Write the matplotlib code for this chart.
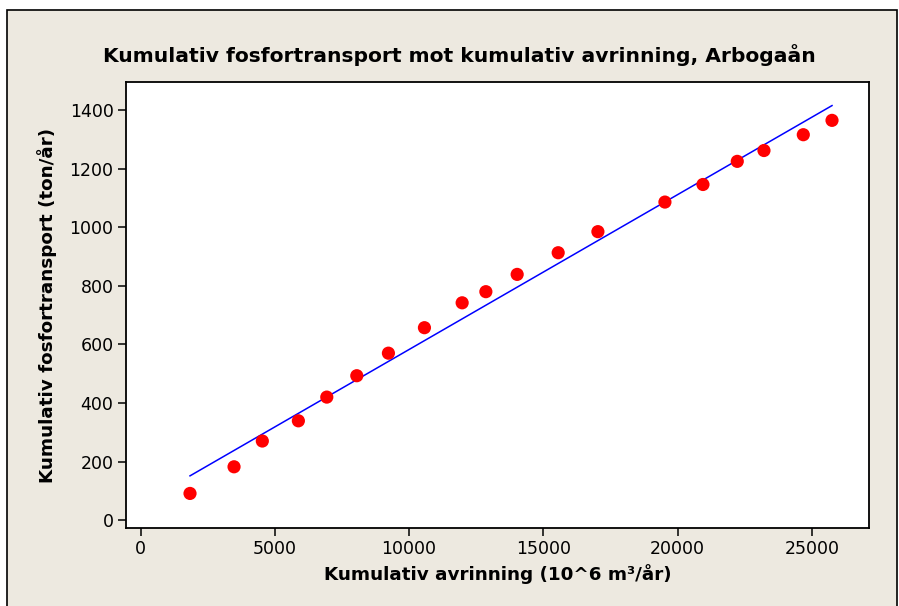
import numpy as np
import matplotlib.pyplot as plt
from matplotlib.patches import Rectangle

# kumulativ avrinning (10^6 m3/år) och kumulativ fosfortransport (ton/år)
avrinning = [1843, 3482, 4535, 5877, 6935, 8052, 9229, 10570, 11974, 12857,
             14022, 15549, 17028, 19523, 20939, 22216, 23210, 24674, 25743]
fosfor = [91, 182, 270, 339, 420, 493, 570, 657, 742, 780,
          839, 913, 985, 1086, 1146, 1225, 1262, 1316, 1365]

x_ticks = [0, 5000, 10000, 15000, 20000, 25000]
y_ticks = [0, 200, 400, 600, 800, 1000, 1200, 1400]

bg = '#EDE9E0'

fig = plt.figure(figsize=(8.99, 6.06), dpi=100)
fig.patch.set_facecolor('white')
# ram runt diagramytan
fig.patches.append(Rectangle((7 / 899, -0.01), 890 / 899, 1 - 10 / 606 + 0.01,
                             transform=fig.transFigure, facecolor=bg,
                             edgecolor='black', linewidth=1.2, zorder=-1))

ax = fig.add_axes([126 / 899, 1 - 528 / 606, 743 / 899, 446 / 606])
ax.set_facecolor('white')

# regressionslinje
x = np.array(avrinning, dtype=float)
y = np.array(fosfor, dtype=float)
k, m = np.polyfit(x, y, 1)
xx = np.array([x.min(), x.max()])
ax.plot(xx, k * xx + m, color='#0000FF', linewidth=1.1, zorder=2)

ax.scatter(x, y, s=90, color='#FF0000', edgecolors='none', zorder=3)

ax.set_xlim(-540, 27120)
ax.set_ylim(-27, 1496)
ax.set_xticks(x_ticks)
ax.set_yticks(y_ticks)
ax.tick_params(direction='out', length=6, width=1.1, labelsize=12.5,
               colors='black', pad=3)
for s in ax.spines.values():
    s.set_linewidth(1.3)

ax.set_xlabel('Kumulativ avrinning (10^6 m³/år)', fontsize=13.2,
              fontweight='bold', labelpad=4)
ax.set_ylabel('Kumulativ fosfortransport (ton/år)', fontsize=13.2,
              fontweight='bold', labelpad=9)
fig.text(459 / 899, 1 - 55 / 606,
         'Kumulativ fosfortransport mot kumulativ avrinning, Arbogaån',
         ha='center', va='center', fontsize=14.6, fontweight='bold')

fig.savefig('out.png', dpi=100, facecolor=fig.get_facecolor())
